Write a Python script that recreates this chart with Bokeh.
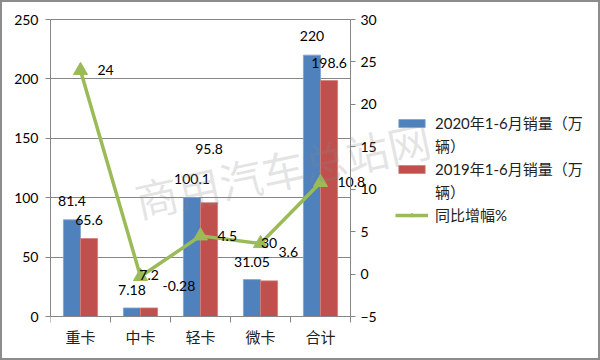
from bokeh.plotting import figure
from bokeh.models import (Range1d, LinearAxis, FixedTicker, ColumnDataSource,
                          Legend, LegendItem, Label)
from bokeh.core.properties import value
from bokeh.embed import file_html
from bokeh.resources import INLINE

# ---------------- data ----------------
categories = ["重卡", "中卡", "轻卡", "微卡", "合计"]
sales_2020 = [81.4, 7.18, 100.1, 31.05, 220]
sales_2019 = [65.6, 7.2, 95.8, 30, 198.6]
growth = [24, -0.28, 4.5, 3.6, 10.8]
labels_2020 = ["81.4", "7.18", "100.1", "31.05", "220"]
labels_2019 = ["65.6", "7.2", "95.8", "30", "198.6"]
labels_growth = ["24", "-0.28", "4.5", "3.6", "10.8"]
left_ticks = [0, 50, 100, 150, 200, 250]
right_ticks = [-5, 0, 5, 10, 15, 20, 25, 30]
series_line1 = ["2020年1-6月销量（万", "2019年1-6月销量（万", "同比增幅%"]
series_line2 = "辆）"
watermark = "商用汽车总站网"

# ---------------- style (label nudges in px) ----------------
dy_2020 = [-19, -18, -19, -18, -19]
dy_2019 = [-19, -33, -54, -38, -18]
dx_growth = [17, 22, 17, 18, 17]
dy_growth = [0, 10, 0, 8, 0]

NUM_FONT = "Lato"
CJK_FONT = "Noto Sans CJK SC"
BLUE = "#4F81BD"
RED = "#C0504D"
GREEN = "#9BBB59"
AXIS_GREY = "#868686"

W, H = 600, 360
FRAME_PX = 2                      # css border width (canvas is shifted by it)
BORDER_L, BORDER_R, BORDER_T, BORDER_B = 48, 6, 2, 2
PLOT_W = 300                      # pixel width used by the categories
PLOT_TOP, PLOT_BOTTOM = 17, 314   # canvas rows of the axis ends
n = len(categories)
frame_w = W - BORDER_L - BORDER_R
x_end = n * frame_w / PLOT_W

lmin, lmax = left_ticks[0], left_ticks[-1]
rmin, rmax = right_ticks[0], right_ticks[-1]
plot_h = PLOT_BOTTOM - PLOT_TOP
top_extra = PLOT_TOP - BORDER_T
bot_extra = (H - BORDER_B) - PLOT_BOTTOM
l_per_px = (lmax - lmin) / plot_h
r_per_px = (rmax - rmin) / plot_h
y_range = Range1d(lmin - bot_extra * l_per_px, lmax + top_extra * l_per_px)
r_range = Range1d(rmin - bot_extra * r_per_px, rmax + top_extra * r_per_px)

centers = [i + 0.5 for i in range(n)]
bw = 0.285
x_2020 = [c - bw / 2 for c in centers]
x_2019 = [c + bw / 2 for c in centers]

src = ColumnDataSource(dict(
    xc=centers, x20=x_2020, x19=x_2019,
    v20=sales_2020, v19=sales_2019, g=growth,
    l20=labels_2020, l19=labels_2019, lg=labels_growth,
    dy20=dy_2020, dy19=dy_2019, dxg=dx_growth, dyg=dy_growth,
))

p = figure(width=W, height=H, output_backend="svg", toolbar_location=None,
           x_range=Range1d(0, x_end), y_range=y_range,
           min_border_left=BORDER_L, min_border_right=BORDER_R,
           min_border_top=BORDER_T, min_border_bottom=BORDER_B)
p.extra_y_ranges = {"right": r_range}
p.outline_line_color = None
p.background_fill_color = "white"
p.border_fill_color = "white"
p.styles = {"border": f"{FRAME_PX}px solid #8c8c8c", "box-sizing": "border-box"}

# axes
p.yaxis.ticker = FixedTicker(ticks=left_ticks)
p.yaxis.bounds = (lmin, lmax)
p.yaxis.axis_line_color = AXIS_GREY
p.yaxis.major_tick_line_color = AXIS_GREY
p.yaxis.major_tick_in = 0
p.yaxis.major_tick_out = 5
p.yaxis.minor_tick_line_color = None
p.yaxis.major_label_text_font = NUM_FONT
p.yaxis.major_label_text_font_size = "14px"
p.yaxis.major_label_text_color = "black"
p.yaxis.major_label_standoff = 7

p.xaxis.fixed_location = lmin
p.xaxis.ticker = FixedTicker(ticks=centers, minor_ticks=list(range(n + 1)))
p.xaxis.major_label_overrides = {c: cat for c, cat in zip(centers, categories)}
p.xaxis.bounds = (0, n)
p.xaxis.axis_line_color = AXIS_GREY
p.xaxis.major_tick_line_color = None
p.xaxis.minor_tick_line_color = AXIS_GREY
p.xaxis.minor_tick_in = 0
p.xaxis.minor_tick_out = 6
p.xaxis.major_label_text_font = CJK_FONT
p.xaxis.major_label_text_font_size = "15px"
p.xaxis.major_label_text_color = "#222222"
p.xaxis.major_label_standoff = 3

ry = LinearAxis(y_range_name="right", ticker=FixedTicker(ticks=right_ticks),
                fixed_location=n, bounds=(rmin, rmax))
ry.axis_line_color = AXIS_GREY
ry.major_tick_line_color = AXIS_GREY
ry.major_tick_in = 0
ry.major_tick_out = 5
ry.minor_tick_line_color = None
ry.major_label_text_font = NUM_FONT
ry.major_label_text_font_size = "14px"
ry.major_label_text_color = "black"
ry.major_label_standoff = 5
p.add_layout(ry, "right")

p.xgrid.grid_line_color = None
p.ygrid.ticker = FixedTicker(ticks=left_ticks)
p.ygrid.grid_line_color = AXIS_GREY
p.ygrid.grid_line_width = 1
p.ygrid.cross_bounds = (0, n)

# bars
b20 = p.vbar(x="x20", top="v20", width=bw, bottom=0, source=src,
             fill_color=BLUE, line_color="#7fa3d1", line_width=0.8)
b19 = p.vbar(x="x19", top="v19", width=bw, bottom=0, source=src,
             fill_color=RED, line_color="#d27e7c", line_width=0.8)

# growth line
gl = p.line(x="xc", y="g", source=src, y_range_name="right",
            line_color=GREEN, line_width=3.5)
gm = p.scatter(x="xc", y="g", source=src, y_range_name="right",
               marker="triangle", size=14, fill_color=GREEN, line_color=GREEN)

# data labels
p.text(x="x20", y="v20", text="l20", source=src, y_offset="dy20",
       text_align="center", text_baseline="middle",
       text_font=value(NUM_FONT), text_font_size="14px", text_color="black")
p.text(x="x19", y="v19", text="l19", source=src, y_offset="dy19",
       text_align="center", text_baseline="middle",
       text_font=value(NUM_FONT), text_font_size="14px", text_color="black")
p.text(x="xc", y="g", text="lg", source=src, y_range_name="right",
       x_offset="dxg", y_offset="dyg",
       text_align="left", text_baseline="middle",
       text_font=value(NUM_FONT), text_font_size="14px", text_color="black")

# legend (wrapped labels: continuation line as a glyph-less row)
legend = Legend(items=[
    LegendItem(label=series_line1[0], renderers=[b20]),
    LegendItem(label=series_line2, renderers=[]),
    LegendItem(label=series_line1[1], renderers=[b19]),
    LegendItem(label=series_line2, renderers=[]),
    LegendItem(label=series_line1[2], renderers=[gl, gm]),
], location=(345, 135))
legend.background_fill_alpha = 0
legend.border_line_color = None
legend.padding = 0
legend.margin = 0
legend.spacing = 2
legend.label_height = 20
legend.glyph_width = 33
legend.glyph_height = 10
legend.label_standoff = 7
legend.label_text_font = "Lato, Noto Sans CJK SC"
legend.label_text_font_size = "15px"
legend.label_text_color = "#222222"
p.add_layout(legend, "center")

# watermark
p.add_layout(Label(x=232, y=192, x_units="screen", y_units="screen",
                   text=watermark, angle=0.21, text_align="center",
                   text_baseline="middle", text_font=CJK_FONT,
                   text_font_size="43px", text_color="#888888", text_alpha=0.22))

open("out.html", "w").write(file_html(p, INLINE))
